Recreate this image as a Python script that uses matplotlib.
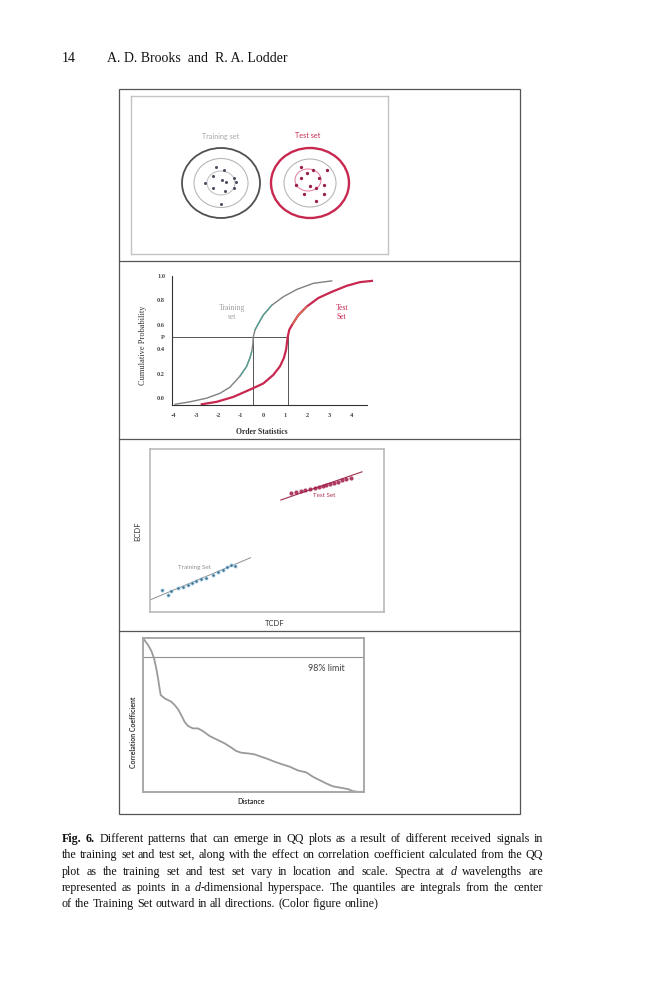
import re
import math
import matplotlib
matplotlib.use("Agg")
import matplotlib.pyplot as plt
from matplotlib.patches import Ellipse, Rectangle
from matplotlib.font_manager import FontProperties

# ---- panel 1: two sets of points inside rings (panel pixel units) ----
train_dot_x = [216, 224, 213, 222, 226, 234, 236, 205, 213, 225, 234, 221]
train_dot_y = [167, 170, 176, 180, 182, 178, 182, 183, 188, 191, 188, 204]
test_dot_x = [301, 313, 327, 307, 319, 301, 296, 310, 316, 324, 304, 324, 316]
test_dot_y = [167, 170, 170, 173, 178, 178, 185, 186, 188, 185, 194, 194, 201]
train_centre = (221, 183)
test_centre = (310, 183)
train_ring_w = [78, 54, 28]
train_ring_h = [70, 49, 24]
test_ring_w = [78, 52, 26]
test_ring_h = [70, 48, 22]

# ---- panel 2: cumulative probability vs order statistics ----
cdf_train_x = [-3.95, -3.28, -2.53, -1.93, -1.48, -1.03, -0.73, -0.58, -0.50, -0.45,
               -0.43, -0.35, -0.20, 0.02, 0.40, 0.92, 1.53, 2.27, 3.10]
cdf_train_p = [-0.05, -0.03, 0.00, 0.04, 0.09, 0.18, 0.26, 0.33, 0.38, 0.44,
               0.50, 0.56, 0.61, 0.68, 0.76, 0.83, 0.89, 0.94, 0.96]
cdf_test_x = [-2.75, -2.08, -1.33, -0.58, 0.02, 0.47, 0.77, 0.95, 1.05, 1.09,
              1.12, 1.19, 1.35, 1.60, 1.98, 2.50, 3.10, 3.78, 4.38, 4.91]
cdf_test_p = [-0.05, -0.03, 0.01, 0.07, 0.12, 0.19, 0.26, 0.33, 0.40, 0.46,
              0.50, 0.56, 0.61, 0.68, 0.75, 0.82, 0.87, 0.92, 0.95, 0.96]
p_level = 0.5
train_median = -0.45
test_median = 1.12
cdf_yticks = [0.0, 0.2, 0.4, 0.5, 0.6, 0.8, 1.0]
cdf_ylabels = ["0.0", "0.2", "0.4", "P", "0.6", "0.8", "1.0"]
cdf_xticks = [-4, -3, -2, -1, 0, 1, 2, 3, 4]

# ---- panel 3: QQ plot, ECDF vs TCDF ----
qq_train_x = [0.053, 0.077, 0.091, 0.120, 0.141, 0.162, 0.179, 0.198, 0.219, 0.241,
              0.269, 0.291, 0.312, 0.330, 0.347, 0.365]
qq_train_y = [0.135, 0.102, 0.131, 0.145, 0.155, 0.164, 0.176, 0.188, 0.201, 0.210,
              0.227, 0.244, 0.258, 0.278, 0.290, 0.284]
qq_test_x = [0.604, 0.625, 0.644, 0.661, 0.682, 0.704, 0.722, 0.739, 0.753, 0.768,
             0.786, 0.803, 0.821, 0.839, 0.860]
qq_test_y = [0.728, 0.738, 0.744, 0.748, 0.755, 0.763, 0.769, 0.774, 0.780, 0.785,
             0.793, 0.799, 0.808, 0.814, 0.820]
qq_train_line_x = [0.0, 0.430]
qq_train_line_y = [0.074, 0.333]
qq_test_line_x = [0.559, 0.906]
qq_test_line_y = [0.687, 0.860]

# ---- panel 4: correlation coefficient vs distance ----
dist = [0.03, 0.23, 0.38, 0.50, 0.60, 0.68, 0.75, 0.80, 0.98, 1.28, 1.43, 1.58, 1.73,
        1.88, 2.04, 2.26, 2.49, 2.71, 3.02, 3.39, 3.70, 4.00, 4.22, 4.45, 4.75, 5.05,
        5.35, 5.66, 5.96, 6.26, 6.64, 7.01, 7.39, 7.69, 7.99, 8.29, 8.60, 8.97, 9.28,
        9.50, 9.73, 10.0]
corr = [0.9989, 0.9926, 0.9863, 0.9786, 0.9681, 0.9576, 0.9471, 0.9400, 0.9365, 0.9330,
        0.9295, 0.9253, 0.9189, 0.9119, 0.9074, 0.9049, 0.9049, 0.9021, 0.8968, 0.8926,
        0.8891, 0.8846, 0.8811, 0.8793, 0.8786, 0.8776, 0.8751, 0.8726, 0.8698, 0.8674,
        0.8646, 0.8607, 0.8586, 0.8540, 0.8505, 0.8470, 0.8439, 0.8424, 0.8410, 0.8389,
        0.8382, 0.8382]
corr_limit = 0.98

header_page = "14"
header_authors = "A. D. Brooks  and  R. A. Lodder"
caption_lines = [
    "**Fig.** **6.** Different patterns that can emerge in QQ plots as a result of different received signals in",
    "the training set and test set, along with the effect on correlation coefficient calculated from the QQ",
    "plot as the training set and test set vary in location and scale. Spectra at *d* wavelengths are",
    "represented as points in a *d*-dimensional hyperspace. The quantiles are integrals from the center",
    "of the Training Set outward in all directions. (Color figure online)",
]

CRIMSON = "#c8284f"
GREY = "#808080"
TEAL = "#4aa596"
SERIF = ["Liberation Serif", "DejaVu Serif"]
SANS = ["Lato", "DejaVu Sans"]

W, H = 659, 1000
fig = plt.figure(figsize=(W / 100, H / 100), dpi=100)


def rect(x0, y0, x1, y1):
    return [x0 / W, 1 - y1 / H, (x1 - x0) / W, (y1 - y0) / H]


bg = fig.add_axes([0, 0, 1, 1])
bg.set_xlim(0, W)
bg.set_ylim(H, 0)
bg.axis("off")

# outer frame split in four panels
fx0, fx1 = 119, 520
edges = [89, 261, 439, 631, 814]
bg.add_patch(Rectangle((fx0, edges[0]), fx1 - fx0, edges[-1] - edges[0],
                       fill=False, ec="#555555", lw=0.9))
for yy in edges[1:-1]:
    bg.plot([fx0, fx1], [yy, yy], color="#555555", lw=0.9)

# panel 1
ax1 = fig.add_axes(rect(131, 96, 388, 254))
ax1.set_xlim(131, 388)
ax1.set_ylim(254, 96)
ax1.set_xticks([])
ax1.set_yticks([])
for s in ax1.spines.values():
    s.set_color("#c4c4c4")
    s.set_linewidth(1.0)
ring_cols_train = ["#505050", "#b8b8b8", "#c4c4c4"]
ring_cols_test = [CRIMSON, "#b8b8b8", "#e88aa6"]
ring_lw = [1.3, 0.8, 0.8]
for w, h, c, lw in zip(train_ring_w, train_ring_h, ring_cols_train, ring_lw):
    ax1.add_patch(Ellipse(train_centre, w, h, fill=False, ec=c, lw=lw))
for i, (w, h, c) in enumerate(zip(test_ring_w, test_ring_h, ring_cols_test)):
    cen = test_centre if i < 2 else (test_centre[0] - 2, test_centre[1] - 3)
    ax1.add_patch(Ellipse(cen, w, h, fill=False, ec=c, lw=ring_lw[i] + (0.4 if i == 0 else 0)))
ax1.plot(train_dot_x, train_dot_y, "o", ms=2.2, color="#4a4f60", mec="none")
ax1.plot(test_dot_x, test_dot_y, "o", ms=2.4, color="#9a1f4c", mec="none")
ax1.text(train_centre[0], 136, "Training set", color="#a8a8a8", fontsize=5.2,
         family=SANS, ha="center", va="center")
ax1.text(test_centre[0] - 2, 136, "Test set", color=CRIMSON, fontsize=5.2,
         family=SANS, ha="center", va="center")

# panel 2
ax2 = fig.add_axes(rect(172, 276, 367, 405))
ax2.set_xlim(-4.09, 4.69)
ax2.set_ylim(-0.056, 1.0)
ax2.patch.set_alpha(0)
for side in ["top", "right"]:
    ax2.spines[side].set_visible(False)
for side in ["left", "bottom"]:
    ax2.spines[side].set_color("#333333")
    ax2.spines[side].set_linewidth(0.8)
ax2.set_yticks(cdf_yticks)
ax2.set_yticklabels(cdf_ylabels)
ax2.set_xticks(cdf_xticks)
ax2.set_xticklabels([str(t) for t in cdf_xticks])
ax2.tick_params(length=0, labelsize=4.6, labelcolor="#444444")
ax2.tick_params(axis="x", pad=6)
ax2.tick_params(axis="y", pad=5)
for lab in ax2.get_xticklabels() + ax2.get_yticklabels():
    lab.set_family(SERIF)
    lab.set_weight("bold")
ax2.plot([-4.09, test_median], [p_level, p_level], color="#555555", lw=0.7)
ax2.plot([train_median, train_median], [-0.056, p_level], color="#555555", lw=0.7)
ax2.plot([test_median, test_median], [-0.056, p_level], color="#555555", lw=0.7)
ax2.plot(cdf_train_x, cdf_train_p, color=GREY, lw=1.0, clip_on=False)
ax2.plot(cdf_train_x[5:9], cdf_train_p[5:9], color=TEAL, lw=1.0, alpha=0.8)
ax2.plot(cdf_train_x[11:15], cdf_train_p[11:15], color=TEAL, lw=1.0, alpha=0.8)
ax2.plot(cdf_test_x, cdf_test_p, color=CRIMSON, lw=1.6, clip_on=False)
ax2.plot(cdf_test_x[12:15], cdf_test_p[12:15], color="#e08a50", lw=1.0, alpha=0.7)
ax2.text(-1.39, 0.70, "Training\nset", color="#a0a0a0", fontsize=5.5, family=SERIF,
         ha="center", va="center", linespacing=1.1)
ax2.text(3.55, 0.70, "Test\nSet", color=CRIMSON, fontsize=5.5, family=SERIF,
         ha="center", va="center", linespacing=1.1)
bg.text(143, 345, "Cumulative Probability", rotation=90, fontsize=6, family=SERIF,
        color="#333333", ha="center", va="center")
bg.text(262, 432, "Order Statistics", fontsize=5.5, family=SERIF, weight="bold",
        color="#333333", ha="center", va="center")

# panel 3
ax3 = fig.add_axes(rect(150, 449, 384, 612))
ax3.set_xlim(0, 1)
ax3.set_ylim(0, 1)
ax3.set_xticks([])
ax3.set_yticks([])
for s in ax3.spines.values():
    s.set_color("#b4b4b4")
    s.set_linewidth(1.1)
ax3.plot(qq_train_line_x, qq_train_line_y, color="#909090", lw=0.7)
ax3.plot(qq_test_line_x, qq_test_line_y, color="#a0304c", lw=0.8)
ax3.plot(qq_train_x, qq_train_y, "o", ms=3.2, color="#9fd0ef", mec="none", alpha=0.6)
ax3.plot(qq_train_x, qq_train_y, "o", ms=1.8, color="#3d6e8c", mec="none")
ax3.plot(qq_test_x, qq_test_y, "o", ms=3.0, color="#a01c48", mec="none", alpha=0.85)
ax3.text(0.191, 0.272, "Training Set", color="#909090", fontsize=4.5, family=SANS,
         ha="center", va="center")
ax3.text(0.744, 0.712, "Test Set", color="#b03050", fontsize=4.5, family=SANS,
         ha="center", va="center")
bg.text(138, 531, "ECDF", rotation=90, fontsize=5.5, family=SANS, color="#333333",
        ha="center", va="center")
bg.text(275, 623, "TCDF", fontsize=5.5, family=SANS, color="#333333",
        ha="center", va="center")

# panel 4
ax4 = fig.add_axes(rect(143, 638, 364, 792))
ax4.set_xlim(0, 10)
ax4.set_ylim(0.838, 1.0)
ax4.set_xticks([])
ax4.set_yticks([])
for s in ax4.spines.values():
    s.set_color("#a8a8a8")
    s.set_linewidth(1.4)
ax4.axhline(corr_limit, color="#909090", lw=0.8)
ax4.plot(dist, corr, color="#9a9a9a", lw=1.3)
ax4.text(8.28, 0.968, "98% limit", fontsize=6.5, family=SANS, color="#444444",
         ha="center", va="center")
bg.text(133, 732, "Correlation Coefficient", rotation=90, fontsize=5, family=SANS,
        weight="bold", color="#333333", ha="center", va="center")
bg.text(251, 802, "Distance", fontsize=5, family=SANS, weight="bold",
        color="#333333", ha="center", va="center")

# header and caption (justified, word by word)
renderer = fig.canvas.get_renderer()


def word_parts(word):
    if word.startswith("**"):
        return [(word.strip("*"), "bold", "normal")]
    parts = []
    for piece in re.split(r"(\*[^*]+\*)", word):
        if not piece:
            continue
        if piece.startswith("*"):
            parts.append((piece.strip("*"), "normal", "italic"))
        else:
            parts.append((piece, "normal", "normal"))
    return parts


def width_of(txt, size, weight="normal", style="normal"):
    t = bg.text(0, 0, txt, fontsize=size, family=SERIF, weight=weight, style=style)
    w = t.get_window_extent(renderer).width
    t.remove()
    return w


def parts_width(parts, size):
    return sum(width_of(p, size, wt, st) for p, wt, st in parts)


def snapped_baseline(txt, size, weight, style, row):
    # nudge y so every word's raster baseline lands on the same pixel row
    prop = FontProperties(family=SERIF, size=size, weight=weight, style=style)
    _, h, d = renderer.get_text_width_height_descent(txt, prop, ismath=False)
    h64 = int(round(h * 64))
    d64 = int(round(d * 64))
    a64 = h64 - d64
    best = None
    for k in range(-12, 13):
        y = row + k * 0.08
        v = y + d
        fr = v - math.floor(v)
        if abs(fr - 0.5) < 0.12:
            continue
        if round(v) - h64 // 64 + a64 // 64 == row:
            if best is None or abs(k) < abs(best[0]):
                best = (k, y)
    return row if best is None else best[1]


left, right = 62, 543
base = 10.0
space = width_of("x x", base) - width_of("xx", base)
natural = []
for line in caption_lines[:-1]:
    words = line.split()
    natural.append(sum(parts_width(word_parts(w), base) for w in words)
                   + space * (len(words) - 1))
size = base * (right - left) / max(natural) * 0.985
space = width_of("x x", size) - width_of("xx", size)

line_rows = [842, 858, 875, 891, 907]
for i, line in enumerate(caption_lines):
    words = [word_parts(w) for w in line.split()]
    widths = [parts_width(p, size) for p in words]
    if i < len(caption_lines) - 1:
        gap = (right - left - sum(widths)) / (len(words) - 1)
    else:
        gap = space
    x = left
    for parts in words:
        for txt, wt, st in parts:
            yb = snapped_baseline(txt, size, wt, st, line_rows[i])
            bg.text(x, yb, txt, fontsize=size, family=SERIF, weight=wt,
                    style=st, va="baseline", ha="left", color="#111111")
            x += width_of(txt, size, wt, st)
        x += gap

hsize = size * 1.16
bg.text(62, 62, header_page, fontsize=hsize, family=SERIF, va="baseline",
        color="#111111")
bg.text(107, 62, header_authors, fontsize=hsize, family=SERIF, va="baseline",
        color="#111111")

fig.savefig("out.png", dpi=100, facecolor="white")
